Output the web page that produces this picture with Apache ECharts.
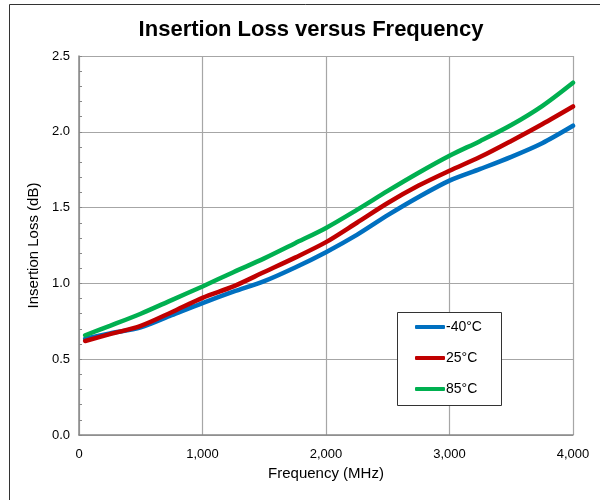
<!DOCTYPE html>
<html>
<head>
<meta charset="utf-8">
<script src="https://cdn.jsdelivr.net/npm/echarts@6/dist/echarts.min.js"></script>
<style>html,body{margin:0;padding:0;background:#fff}#c{width:600px;height:500px}</style>
</head>
<body>
<div id="c"></div>
<script>
const freq = [50, 250, 500, 750, 1000, 1250, 1500, 1750, 2000, 2250, 2500, 2750, 3000, 3250, 3500, 3750, 4000];
const lossM40 = [0.635, 0.67, 0.71, 0.79, 0.87, 0.945, 1.015, 1.105, 1.206, 1.32, 1.45, 1.57, 1.678, 1.755, 1.835, 1.925, 2.04];
const loss25 = [0.62, 0.665, 0.72, 0.81, 0.905, 0.98, 1.075, 1.17, 1.272, 1.40, 1.53, 1.645, 1.743, 1.835, 1.94, 2.05, 2.167];
const loss85 = [0.658, 0.72, 0.80, 0.89, 0.98, 1.074, 1.165, 1.265, 1.366, 1.485, 1.61, 1.73, 1.842, 1.94, 2.045, 2.17, 2.324];
const seriesNames = ['-40°C', '25°C', '85°C'];
const xTicks = [0, 1000, 2000, 3000, 4000];
const yTicks = [0, 0.5, 1.0, 1.5, 2.0, 2.5];

const pair = (ys) => freq.map((f, i) => [f, ys[i]]);
const colors = ['#0070C0', '#C00000', '#00B050'];
const font = 'Liberation Sans, Arial, sans-serif';

const chart = echarts.init(document.getElementById('c'));
chart.setOption({
  animation: false,
  title: {
    text: 'Insertion Loss versus Frequency',
    left: 306, top: 14, textAlign: 'center',
    textStyle: { fontFamily: font, fontSize: 22, fontWeight: 'bold', color: '#000' }
  },
  graphic: [
    { type: 'rect', left: 7, top: 2, shape: { width: 620, height: 520 }, style: { fill: 'none', stroke: '#333', lineWidth: 1 }, silent: true, z: 0 },
    { type: 'rect', left: 397, top: 312, shape: { width: 104, height: 93 }, style: { fill: '#fff', stroke: '#333', lineWidth: 1 }, z: 10 }
  ],
  legend: {
    orient: 'vertical', left: 415, top: 320, padding: 0, itemGap: 17,
    itemWidth: 30, itemHeight: 4, icon: 'roundRect', z: 20,
    textStyle: { fontFamily: font, fontSize: 14, color: '#000', padding: [0, 0, 0, -4] },
    data: seriesNames
  },
  grid: { left: 79, right: 27, top: 56, bottom: 65, containLabel: false },
  xAxis: {
    type: 'value', min: 0, max: 4000, interval: 1000,
    name: 'Frequency (MHz)', nameLocation: 'middle', nameGap: 30,
    nameTextStyle: { fontFamily: font, fontSize: 15, color: '#000' },
    axisLine: { lineStyle: { color: '#888', width: 1.5 } },
    axisTick: { show: false },
    axisLabel: { fontFamily: font, fontSize: 13, color: '#000', margin: 13,
      formatter: v => xTicks.includes(v) ? v.toLocaleString('en-US') : '' },
    splitLine: { lineStyle: { color: '#a6a6a6', width: 1.2 } }
  },
  yAxis: {
    type: 'value', min: 0, max: 2.5, interval: 0.5,
    name: 'Insertion Loss (dB)', nameLocation: 'middle', nameGap: 37,
    nameTextStyle: { fontFamily: font, fontSize: 15, color: '#000' },
    axisLine: { show: true, lineStyle: { color: '#888', width: 1.5 } },
    axisTick: { show: true, inside: true, length: 3, lineStyle: { color: '#888' } },
    minorTick: { show: true, splitNumber: 5, length: 3, lineStyle: { color: '#888' } },
    axisLabel: { fontFamily: font, fontSize: 13, color: '#000', margin: 9,
      formatter: v => yTicks.some(t => Math.abs(t - v) < 1e-9) ? v.toFixed(1) : '' },
    splitLine: { lineStyle: { color: '#a6a6a6', width: 1.2 } }
  },
  series: [lossM40, loss25, loss85].map((d, i) => ({
    name: seriesNames[i], type: 'line', data: pair(d), showSymbol: false, smooth: 0.3,
    z: 3 + i,
    lineStyle: { color: colors[i], width: 4.5, cap: 'round' },
    itemStyle: { color: colors[i] }
  }))
});
</script>
</body>
</html>
